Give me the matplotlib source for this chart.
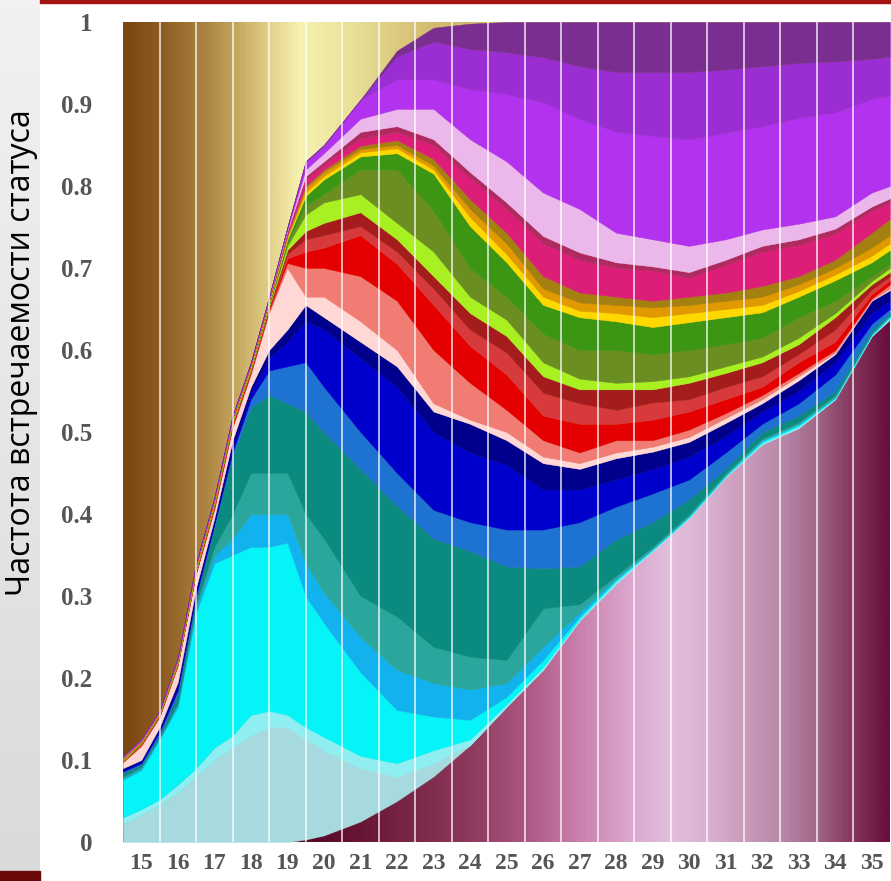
import numpy as np
import matplotlib
matplotlib.use("Agg")
import matplotlib.pyplot as plt
from matplotlib.colors import LinearSegmentedColormap
from matplotlib.patches import Rectangle

# age grid (years)
ages = [14.5, 15, 15.5, 16, 16.5, 17, 17.5, 18, 18.5, 19, 19.5, 20, 21, 22, 23, 24,
        25, 26, 27, 28, 29, 30, 31, 32, 33, 34, 35, 35.5]
year_labels = [str(y) for y in range(15, 36)]
y_labels = ['0', '0.1', '0.2', '0.3', '0.4', '0.5', '0.6', '0.7', '0.8', '0.9', '1']

# cumulative tops of every status, bottom -> top
top_maroon = [0, 0, 0, 0, 0, 0, 0, 0, 0, 0, .003, .008, .025, .05, .08, .118, .165, .21, .27, .315, .355, .395, .445, .485, .505, .54, .617, .637]
top_powder = [.022, .033, .045, .06, .08, .10, .115, .13, .14, .14, .125, .112, .09, .079, .096, .118, .165, .21, .27, .315, .355, .395, .445, .485, .505, .54, .617, .638]
top_palecyan = [.03, .04, .052, .07, .09, .115, .13, .155, .16, .155, .14, .128, .105, .096, .112, .125, .168, .213, .272, .318, .356, .396, .446, .487, .507, .541, .618, .64]
top_cyan = [.076, .088, .125, .165, .28, .34, .35, .36, .36, .365, .30, .267, .207, .161, .153, .149, .177, .222, .275, .32, .357, .397, .447, .489, .509, .542, .619, .641]
top_deepsky = [.078, .09, .127, .168, .285, .35, .37, .40, .40, .40, .34, .304, .25, .21, .194, .186, .194, .238, .28, .322, .358, .398, .448, .49, .51, .543, .62, .642]
top_seagreen = [.08, .092, .128, .17, .29, .36, .40, .45, .45, .45, .40, .37, .30, .275, .238, .226, .222, .285, .29, .325, .36, .40, .45, .492, .512, .545, .621, .643]
top_teal = [.084, .094, .13, .18, .295, .385, .47, .53, .545, .535, .525, .50, .455, .41, .37, .355, .336, .334, .336, .369, .39, .418, .455, .50, .52, .55, .624, .645]
top_dodger = [.086, .096, .134, .185, .30, .387, .475, .54, .575, .58, .585, .555, .50, .45, .405, .39, .381, .381, .39, .409, .425, .442, .475, .51, .535, .57, .632, .65]
top_medblue = [.088, .098, .137, .19, .305, .39, .48, .548, .59, .61, .635, .625, .59, .555, .50, .475, .46, .43, .43, .442, .455, .47, .495, .525, .55, .585, .645, .66]
top_navy = [.09, .10, .14, .195, .31, .395, .49, .555, .60, .625, .655, .64, .61, .58, .525, .51, .49, .462, .455, .468, .476, .488, .511, .535, .563, .595, .66, .673]
top_misty = [.097, .117, .152, .215, .327, .405, .505, .57, .645, .70, .665, .665, .635, .60, .535, .515, .50, .47, .462, .475, .482, .494, .517, .54, .568, .597, .661, .675]
top_salmon = [.098, .118, .153, .216, .328, .407, .507, .572, .648, .706, .70, .70, .69, .66, .60, .56, .527, .49, .475, .49, .49, .503, .523, .545, .572, .60, .663, .68]
top_red = [.098, .119, .154, .217, .329, .409, .509, .574, .65, .712, .72, .725, .74, .705, .655, .605, .57, .52, .51, .51, .515, .525, .54, .555, .585, .61, .668, .685]
top_indianred = [.099, .120, .155, .218, .330, .410, .510, .575, .651, .717, .735, .74, .751, .72, .675, .625, .597, .548, .535, .527, .536, .54, .555, .568, .595, .625, .674, .69]
top_darkred = [.099, .120, .155, .218, .331, .411, .511, .576, .653, .722, .745, .755, .768, .735, .69, .645, .617, .568, .552, .552, .552, .56, .572, .585, .607, .64, .68, .695]
top_yellowgreen = [.100, .121, .156, .219, .332, .412, .512, .577, .655, .727, .765, .78, .79, .755, .72, .665, .637, .585, .565, .56, .562, .568, .58, .592, .615, .645, .684, .70]
top_olive = [.100, .121, .156, .220, .333, .413, .513, .578, .656, .73, .775, .79, .82, .82, .77, .70, .665, .62, .60, .60, .595, .60, .607, .615, .64, .66, .69, .705]
top_green = [.101, .122, .157, .221, .334, .414, .514, .579, .658, .735, .788, .808, .836, .84, .815, .751, .707, .655, .64, .635, .628, .634, .64, .646, .665, .685, .707, .722]
top_yellow = [.101, .122, .157, .221, .335, .415, .515, .58, .659, .737, .792, .812, .841, .846, .82, .762, .717, .665, .648, .645, .64, .645, .65, .655, .672, .692, .715, .73]
top_orange = [.102, .123, .158, .222, .336, .416, .516, .581, .66, .739, .797, .817, .845, .85, .825, .772, .73, .675, .658, .655, .652, .655, .66, .665, .68, .70, .725, .74]
top_darkgold = [.102, .123, .158, .223, .337, .417, .517, .582, .661, .741, .80, .82, .849, .856, .833, .784, .743, .69, .67, .665, .66, .665, .67, .678, .69, .71, .743, .76]
top_deeppink = [.103, .124, .159, .224, .338, .418, .518, .583, .662, .743, .808, .826, .858, .866, .85, .81, .772, .73, .71, .70, .697, .688, .704, .72, .728, .742, .77, .78]
top_crimson = [.103, .124, .159, .224, .339, .419, .519, .584, .663, .745, .812, .83, .866, .873, .857, .817, .78, .739, .719, .707, .702, .695, .71, .727, .735, .748, .775, .785]
top_lavender = [.104, .125, .16, .225, .34, .42, .52, .585, .664, .747, .82, .84, .882, .894, .894, .857, .83, .792, .772, .743, .735, .727, .735, .747, .754, .763, .792, .80]
top_violet = [.104, .125, .16, .225, .34, .42, .52, .585, .665, .749, .828, .848, .905, .93, .93, .918, .912, .902, .882, .866, .861, .857, .865, .873, .883, .89, .906, .91]
top_orchid = [.104, .125, .16, .225, .34, .42, .52, .585, .665, .75, .83, .85, .905, .958, .976, .967, .963, .957, .946, .939, .939, .939, .942, .946, .95, .952, .955, .958]
top_purple = [.104, .125, .16, .225, .34, .42, .52, .585, .665, .75, .83, .85, .905, .965, .993, .998, 1, 1, 1, 1, 1, 1, 1, 1, 1, 1, 1, 1]

layer_tops = [top_powder, top_palecyan, top_cyan, top_deepsky, top_seagreen, top_teal,
              top_dodger, top_medblue, top_navy, top_misty, top_salmon, top_red,
              top_indianred, top_darkred, top_yellowgreen, top_olive, top_green,
              top_yellow, top_orange, top_darkgold, top_deeppink, top_crimson,
              top_lavender, top_violet, top_orchid, top_purple]
layer_colors = ['#a6dadf', '#8feef2', '#04f4f8', '#12b2ee', '#2aa69c', '#0b8a80',
                '#1e72d2', '#0000cd', '#00008c', '#ffd8d6', '#f07c74', '#e40000',
                '#d63a3a', '#a41c1c', '#a8f022', '#6b8e23', '#3c9614',
                '#ffd800', '#e09a00', '#a48010', '#dc1e78', '#b02a62',
                '#ecb8ec', '#b232f0', '#9a2ed2', '#7a2e90']

# gradients of the two background statuses
top_stops = [(14.5, '#7a4610'), (15.5, '#8c5c22'), (16.5, '#a67c3a'), (17.5, '#c4a45c'),
             (18.5, '#e2d28a'), (19.3, '#f6f2b2'), (20, '#f0eaa6'), (21, '#e6dc94'),
             (22, '#dcca80'), (23, '#d2ba6e'), (35.5, '#c8aa60')]
maroon_stops = [(14.5, '#4a0420'), (19.5, '#560826'), (21, '#681436'), (22.5, '#7c284a'),
                (24, '#8e3a5e'), (25.5, '#aa5680'), (26.5, '#c072a0'), (27.5, '#d08eb8'),
                (28.5, '#dcaad0'), (29.5, '#e2bedc'), (30.5, '#dab2d2'), (31.5, '#cc9cbc'),
                (32.5, '#ba8aaa'), (33.5, '#a2688a'), (34.5, '#86385e'), (35.5, '#6a0e3e')]


def cmap_from(stops, name):
    return LinearSegmentedColormap.from_list(
        name, [((a - 14.5) / 21.0, c) for a, c in stops])


fig = plt.figure(figsize=(8.91, 8.81), dpi=100)
fig.patch.set_facecolor('white')

# slide decoration on the left
side = fig.add_axes([0, 0, 40 / 891, 1])
side.imshow(np.linspace(0, 1, 100)[:, None], aspect='auto',
            cmap=LinearSegmentedColormap.from_list('g', ['#f1f1f1', '#dadada']),
            extent=[0, 1, 0, 1])
side.axis('off')
fig.patches.append(Rectangle((0, 0), 40 / 891, 10 / 881, transform=fig.transFigure,
                             color='#6b0a0a', zorder=5))
fig.patches.append(Rectangle((40 / 891, 1 - 2.5 / 881), 1, 2.5 / 881,
                             transform=fig.transFigure, color='#a31414', zorder=5))

ax = fig.add_axes([123 / 891, 39 / 881, 767 / 891, 820 / 881])
ax.set_xlim(14.5, 35.5)
ax.set_ylim(0, 1)

grad = np.linspace(0, 1, 400)[None, :]
ax.imshow(grad, aspect='auto', extent=[14.5, 35.5, 0, 1],
          cmap=cmap_from(top_stops, 'top'), zorder=0)

x = np.array(ages)
bounds = np.vstack([top_maroon] + layer_tops)
bounds = np.maximum.accumulate(bounds, axis=0)

maroon_poly = ax.fill_between(x, 0, bounds[0], color='none', lw=0, zorder=1)
mimg = ax.imshow(grad, aspect='auto', extent=[14.5, 35.5, 0, 1],
                 cmap=cmap_from(maroon_stops, 'maroon'), zorder=1)
mimg.set_clip_path(maroon_poly.get_paths()[0], transform=ax.transData)

for i, col in enumerate(layer_colors):
    ax.fill_between(x, bounds[i], bounds[i + 1], color=col, lw=0.3,
                    edgecolor=col, zorder=2)

ax.vlines(np.arange(15.5, 35.0, 1.0), 0, 1, colors='white', alpha=0.75,
          lw=1.3, zorder=4)

ax.set_xticks(range(15, 36))
ax.set_xticklabels(year_labels)
ax.set_yticks(np.linspace(0, 1, 11))
ax.set_yticklabels(y_labels)
ax.tick_params(length=0, colors='#555555')
ax.tick_params(axis='y', pad=22)
ax.tick_params(axis='x', pad=8)
for lab in ax.get_yticklabels():
    lab.set_fontfamily('Liberation Serif')
    lab.set_fontweight('bold')
    lab.set_fontsize(18)
for lab in ax.get_xticklabels():
    lab.set_fontfamily('Liberation Serif')
    lab.set_fontweight('bold')
    lab.set_fontsize(17)
for s in ax.spines.values():
    s.set_visible(False)

fig.text(22 / 891, 1 - 353 / 881, 'Частота встречаемости статуса', rotation=90,
         ha='center', va='center', fontsize=23, family=['Open Sans', 'DejaVu Sans'],
         color='black')

fig.savefig('out.png', dpi=100)
